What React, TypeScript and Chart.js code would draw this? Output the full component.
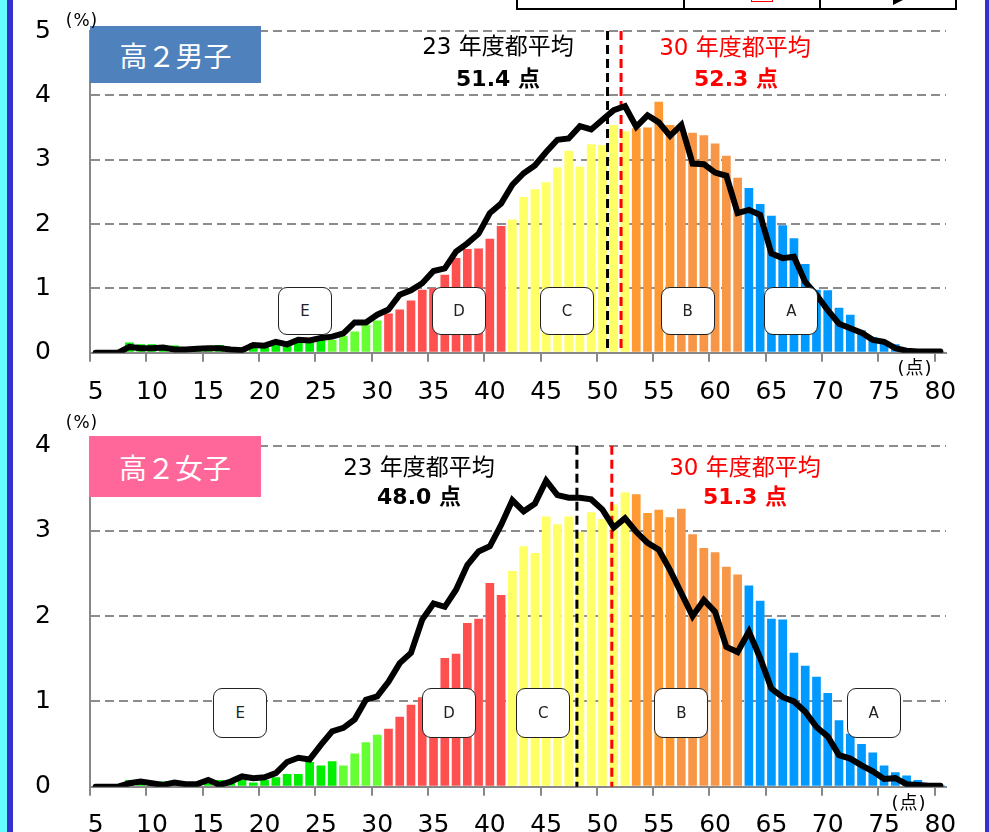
import React, { useEffect, useRef } from 'react';
import { Chart, registerables } from 'chart.js';

Chart.register(...registerables);

// ---- categories (score, 点) ----
const scoreLabels = [
  '5', '6', '7', '8', '9', '10', '11', '12', '13', '14', '15', '16', '17', '18', '19', '20',
  '21', '22', '23', '24', '25', '26', '27', '28', '29', '30', '31', '32', '33', '34', '35', '36',
  '37', '38', '39', '40', '41', '42', '43', '44', '45', '46', '47', '48', '49', '50', '51', '52',
  '53', '54', '55', '56', '57', '58', '59', '60', '61', '62', '63', '64', '65', '66', '67', '68',
  '69', '70', '71', '72', '73', '74', '75', '76', '77', '78', '79', '80',
];

// ---- 高２男子: bars = 30年度 (%), line = 23年度 (%) ----
const boysBars = [
  0, 0, 0,
  0.16, 0.13, 0.13, 0.09, 0.11, 0.07, 0.06, 0.07, 0.12, 0.09,
  0.08, 0.15, 0.12, 0.16, 0.15, 0.23, 0.20, 0.22, 0.20, 0.26,
  0.33, 0.44, 0.50, 0.61, 0.67, 0.81, 0.98, 1.00, 1.21, 1.47,
  1.61, 1.62, 1.77, 1.97, 2.07, 2.42, 2.54, 2.65, 2.88, 3.14,
  2.89, 3.24, 3.23, 3.54, 3.44, 3.49, 3.50, 3.90, 3.54, 3.45,
  3.42, 3.38, 3.25, 3.06, 2.72, 2.56, 2.31, 2.13, 1.98, 1.78,
  1.38, 0.98, 0.97, 0.70, 0.59, 0.35, 0.24, 0.17, 0.13, 0.04,
  0.02, 0.01, 0.01,
];
const boysLine23 = [
  0, 0, 0,
  0.09, 0.07, 0.07, 0.08, 0.05, 0.05, 0.06, 0.07, 0.07, 0.05,
  0.04, 0.12, 0.11, 0.17, 0.13, 0.20, 0.19, 0.23, 0.25, 0.30,
  0.47, 0.47, 0.59, 0.67, 0.90, 0.97, 1.08, 1.27, 1.31, 1.57,
  1.70, 1.85, 2.17, 2.32, 2.61, 2.79, 2.91, 3.12, 3.31, 3.33,
  3.52, 3.47, 3.62, 3.77, 3.83, 3.51, 3.69, 3.58, 3.37, 3.54,
  2.94, 2.93, 2.80, 2.75, 2.17, 2.22, 2.14, 1.54, 1.47, 1.49,
  1.10, 0.90, 0.66, 0.45, 0.38, 0.31, 0.20, 0.17, 0.07, 0.03,
  0.02, 0.02, 0.02,
];

// ---- 高２女子 ----
const girlsBars = [
  0, 0, 0,
  0.08, 0.08, 0.06, 0.06, 0.05, 0.05, 0.04, 0.08, 0.08, 0.06,
  0.08, 0.05, 0.08, 0.11, 0.15, 0.15, 0.29, 0.25, 0.30, 0.25,
  0.39, 0.52, 0.61, 0.68, 0.82, 0.96, 1.05, 1.12, 1.51, 1.56,
  1.92, 1.97, 2.39, 2.25, 2.53, 2.82, 2.74, 3.17, 3.08, 3.17,
  2.99, 3.22, 3.14, 3.31, 3.45, 3.43, 3.21, 3.25, 3.16, 3.26,
  2.96, 2.80, 2.75, 2.58, 2.49, 2.36, 2.18, 1.97, 1.96, 1.57,
  1.42, 1.29, 1.10, 0.78, 0.62, 0.50, 0.40, 0.25, 0.17, 0.13,
  0.08, 0.03, 0.02,
];
const girlsLine23 = [
  0, 0, 0,
  0.04, 0.06, 0.04, 0.02, 0.05, 0.03, 0.03, 0.08, 0.02, 0.06,
  0.12, 0.10, 0.11, 0.16, 0.29, 0.34, 0.32, 0.49, 0.65, 0.69,
  0.79, 1.02, 1.06, 1.23, 1.45, 1.57, 1.96, 2.15, 2.11, 2.31,
  2.60, 2.76, 2.82, 3.07, 3.36, 3.23, 3.32, 3.59, 3.42, 3.39,
  3.39, 3.37, 3.25, 3.04, 3.15, 2.99, 2.86, 2.78, 2.54, 2.27,
  2.00, 2.19, 2.05, 1.64, 1.58, 1.82, 1.51, 1.15, 1.05, 1.00,
  0.88, 0.70, 0.59, 0.37, 0.33, 0.25, 0.18, 0.09, 0.10, 0.03,
  0.02, 0.01, 0.01,
];

// mean-line positions
const boysMeanMarks = [50.45, 51.65];
const girlsMeanMarks = [47.73, 50.83];
const boysMeanTexts = ['51.4 点', '52.3 点'];
const girlsMeanTexts = ['48.0 点', '51.3 点'];

const gradeLetters = ['E', 'D', 'C', 'B', 'A'];

const FONT_NUM = '"DejaVu Sans", "Noto Sans CJK JP", sans-serif';
const FONT_JP = '"DejaVu Sans", "Noto Sans CJK JP", sans-serif';

function barColor(score: number, lightGreenFrom: number): string {
  if (score >= 63) return '#0099FF';
  if (score >= 57) return '#F79646';
  if (score >= 53) return '#FF9933';
  if (score >= 42) return '#FFFF66';
  if (score >= 31) return '#FF5050';
  if (score >= lightGreenFrom) return '#66FF33';
  return '#00EE00';
}

type ChartProps = {
  top: number;
  height: number;
  padTop: number;
  xAxisHeight: number;
  xLabelPad: number;
  yMax: number;
  bars: number[];
  line: number[];
  marks: number[];
  lightGreenFrom: number;
};

function DistChart(p: ChartProps) {
  const ref = useRef<HTMLCanvasElement>(null);
  useEffect(() => {
    const canvas = ref.current;
    if (!canvas) return;
    const markColors = ['#000000', '#FF0000'];
    const meanPlugin = {
      id: 'meanLines',
      afterDatasetDraw(chart: any, args: any) {
        if (args.meta.type !== 'bar') return;
        const { ctx, chartArea, scales } = chart;
        const xs = scales.x;
        ctx.save();
        ctx.lineWidth = 3;
        ctx.setLineDash([9, 5]);
        p.marks.forEach((m, i) => {
          const px = xs.getPixelForValue(m - 5);
          ctx.strokeStyle = markColors[i];
          ctx.beginPath();
          ctx.moveTo(px, chartArea.top);
          ctx.lineTo(px, chartArea.bottom);
          ctx.stroke();
        });
        ctx.restore();
      },
    };
    const chart = new Chart(canvas, {
      type: 'bar',
      data: {
        labels: scoreLabels,
        datasets: [
          {
            type: 'line',
            data: p.line,
            borderColor: '#000000',
            borderWidth: 6,
            borderCapStyle: 'round',
            pointRadius: 0,
            tension: 0,
            fill: false,
            order: 0,
          } as any,
          {
            type: 'bar',
            data: p.bars,
            backgroundColor: scoreLabels.map((s) => barColor(Number(s), p.lightGreenFrom)),
            borderWidth: 0,
            categoryPercentage: 1,
            barPercentage: 0.77,
            order: 1,
          },
        ],
      },
      options: {
        animation: false,
        responsive: false,
        devicePixelRatio: 1,
        events: [],
        layout: { padding: { top: p.padTop, right: 43, left: 0, bottom: 0 } },
        plugins: { legend: { display: false }, tooltip: { enabled: false } },
        scales: {
          x: {
            type: 'category',
            offset: true,
            afterFit: (s: any) => {
              s.height = p.xAxisHeight;
            },
            grid: {
              display: true,
              drawOnChartArea: false,
              drawTicks: true,
              tickLength: 9,
              offset: true,
              lineWidth: 2,
              color: (c: any) =>
                c.index !== undefined && c.index % 5 === 0 ? '#888888' : 'rgba(0,0,0,0)',
            },
            border: { display: true, color: '#888888', width: 2 },
            ticks: {
              autoSkip: false,
              maxRotation: 0,
              minRotation: 0,
              padding: p.xLabelPad,
              color: '#000000',
              font: { family: FONT_NUM, size: 25 },
              callback: (_v: any, i: number) => (Number(scoreLabels[i]) % 5 === 0 ? scoreLabels[i] : ''),
            },
          },
          y: {
            type: 'linear',
            min: 0,
            max: p.yMax,
            afterFit: (s: any) => {
              s.width = 90;
            },
            grid: {
              drawTicks: true,
              tickLength: 39,
              tickColor: 'rgba(0,0,0,0)',
              lineWidth: 2,
              color: (c: any) => (c.tick && c.tick.value === 0 ? 'rgba(0,0,0,0)' : '#8C8C8C'),
            },
            border: { display: true, color: '#888888', width: 2, dash: [9, 5] },
            ticks: {
              stepSize: 1,
              padding: 0,
              color: '#000000',
              font: { family: FONT_NUM, size: 25 },
            },
          },
        },
      },
      plugins: [meanPlugin],
    } as any);
    return () => chart.destroy();
  }, []);
  return (
    <canvas
      ref={ref}
      width={989}
      height={p.height}
      style={{ position: 'absolute', left: 0, top: p.top, width: 989, height: p.height }}
    />
  );
}

function Txt(props: {
  x: number;
  y: number;
  size: number;
  color?: string;
  bold?: boolean;
  family?: string;
  spacing?: number;
  children: React.ReactNode;
}) {
  return (
    <div
      style={{
        position: 'absolute',
        left: props.x,
        top: props.y,
        transform: 'translate(-50%, -50%)',
        fontSize: props.size,
        lineHeight: 1,
        whiteSpace: 'nowrap',
        color: props.color || '#000',
        fontWeight: props.bold ? 700 : 400,
        fontFamily: props.family || FONT_JP,
        letterSpacing: props.spacing || 0,
      }}
    >
      {props.children}
    </div>
  );
}

function GradeBox(props: { x: number; y: number; h: number; letter: string }) {
  return (
    <div
      style={{
        position: 'absolute',
        left: props.x - 27,
        top: props.y - props.h / 2,
        width: 54,
        height: props.h,
        boxSizing: 'border-box',
        border: '1.5px solid #222',
        borderRadius: 9,
        background: '#fff',
        display: 'flex',
        alignItems: 'center',
        justifyContent: 'center',
        fontFamily: '"DejaVu Sans", sans-serif',
        fontSize: 15,
        color: '#222',
      }}
    >
      {props.letter}
    </div>
  );
}

function TitleBox(props: { x: number; y: number; w: number; h: number; bg: string; text: string }) {
  return (
    <div
      style={{
        position: 'absolute',
        left: props.x,
        top: props.y,
        width: props.w,
        height: props.h,
        background: props.bg,
        color: '#fff',
        display: 'flex',
        alignItems: 'center',
        justifyContent: 'center',
        fontFamily: '"Noto Sans CJK JP", sans-serif',
        fontSize: 28,
        lineHeight: 1,
      }}
    >
      {props.text}
    </div>
  );
}

export default function App() {
  const boysBoxX = [305, 459, 567, 687.7, 791.3];
  const girlsBoxX = [240.3, 449, 543.3, 681.3, 873.7];
  return (
    <div
      style={{
        position: 'absolute',
        left: 0,
        top: 0,
        width: 989,
        height: 832,
        overflow: 'hidden',
        background: '#fff',
      }}
    >
      {/* page frame */}
      <div style={{ position: 'absolute', left: 0, top: 0, width: 7, height: 832, background: '#66FFFF' }} />
      <div style={{ position: 'absolute', left: 7, top: 0, width: 6, height: 832, background: '#3333CC' }} />
      <div style={{ position: 'absolute', left: 985, top: 0, width: 4, height: 832, background: '#3333CC' }} />
      {/* table fragment at top */}
      <div
        style={{
          position: 'absolute',
          left: 516,
          top: -12,
          width: 441,
          height: 22,
          boxSizing: 'border-box',
          border: '2px solid #000',
        }}
      />
      <div style={{ position: 'absolute', left: 683, top: 0, width: 2, height: 10, background: '#000' }} />
      <div style={{ position: 'absolute', left: 819, top: 0, width: 2, height: 10, background: '#000' }} />
      <div
        style={{
          position: 'absolute',
          left: 751,
          top: -6,
          width: 22,
          height: 8,
          boxSizing: 'border-box',
          border: '1px solid #FF0000',
        }}
      />
      <div
        style={{
          position: 'absolute',
          left: 893,
          top: 0,
          width: 0,
          height: 0,
          borderTop: '5px solid #000',
          borderRight: '10px solid transparent',
        }}
      />

      <DistChart
        top={0}
        height={410}
        padTop={31}
        xAxisHeight={57.3}
        xLabelPad={16}
        yMax={5}
        bars={boysBars}
        line={boysLine23}
        marks={boysMeanMarks}
        lightGreenFrom={26}
      />
      <DistChart
        top={410}
        height={440}
        padTop={35.7}
        xAxisHeight={63.3}
        xLabelPad={15}
        yMax={4}
        bars={girlsBars}
        line={girlsLine23}
        marks={girlsMeanMarks}
        lightGreenFrom={27}
      />

      {/* top chart annotations */}
      <TitleBox x={90} y={26} w={171} h={57} bg="#4F81BD" text="高２男子" />
      <Txt x={82} y={20} size={17} spacing={1}>(%)</Txt>
      <Txt x={915} y={368} size={18} spacing={1}>(点)</Txt>
      <Txt x={498} y={46} size={23}>23 年度都平均</Txt>
      <Txt x={498} y={79} size={22} bold>{boysMeanTexts[0]}</Txt>
      <Txt x={735} y={47} size={23} color="#FF0000">30 年度都平均</Txt>
      <Txt x={736} y={79} size={22} bold color="#FF0000">{boysMeanTexts[1]}</Txt>
      {gradeLetters.map((g, i) => (
        <GradeBox key={'b' + g} x={boysBoxX[i]} y={310.5} h={48} letter={g} />
      ))}

      {/* bottom chart annotations */}
      <TitleBox x={89} y={436} w={172} h={61} bg="#FF6699" text="高２女子" />
      <Txt x={82} y={422} size={17} spacing={1}>(%)</Txt>
      <Txt x={909} y={803} size={18} spacing={1}>(点)</Txt>
      <Txt x={419} y={467} size={23}>23 年度都平均</Txt>
      <Txt x={419} y={497} size={22} bold>{girlsMeanTexts[0]}</Txt>
      <Txt x={745} y={467} size={23} color="#FF0000">30 年度都平均</Txt>
      <Txt x={745} y={497} size={22} bold color="#FF0000">{girlsMeanTexts[1]}</Txt>
      {gradeLetters.map((g, i) => (
        <GradeBox key={'g' + g} x={girlsBoxX[i]} y={712.5} h={50} letter={g} />
      ))}
    </div>
  );
}
